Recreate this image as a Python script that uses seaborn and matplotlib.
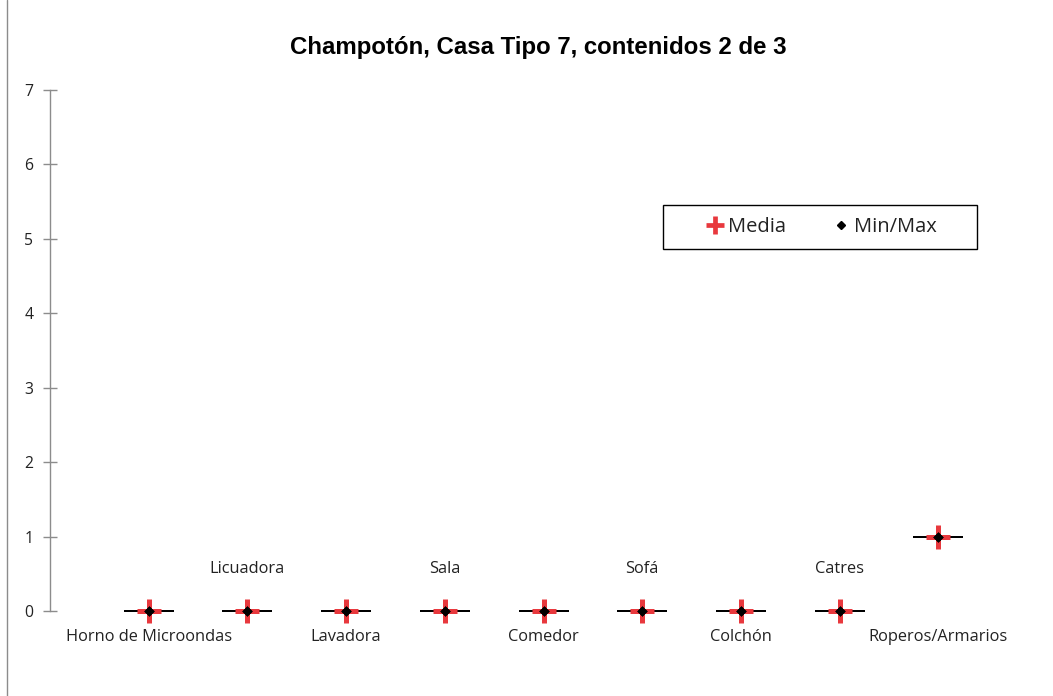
import matplotlib
matplotlib.use("Agg")
import matplotlib.pyplot as plt
from matplotlib.lines import Line2D
from matplotlib.patches import Rectangle
import seaborn as sns
import pandas as pd

# Contents and their damage values
categorias = ["Horno de Microondas", "Licuadora", "Lavadora", "Sala", "Comedor",
              "Sofá", "Colchón", "Catres", "Roperos/Armarios"]
media = [0, 0, 0, 0, 0, 0, 0, 0, 1]
minimo = [0, 0, 0, 0, 0, 0, 0, 0, 1]
maximo = [0, 0, 0, 0, 0, 0, 0, 0, 1]
y_ticks = [0, 1, 2, 3, 4, 5, 6, 7]

sns.set_style("white")
plt.rcParams["font.family"] = ["Open Sans", "DejaVu Sans"]

df = pd.DataFrame({"pos": range(len(categorias)), "categoria": categorias,
                   "media": media, "min": minimo, "max": maximo})
df_mm = pd.concat([df[["pos", "min"]].rename(columns={"min": "v"}),
                   df[["pos", "max"]].rename(columns={"max": "v"})])

fig = plt.figure(figsize=(10.53, 6.96), dpi=100)
ax = fig.add_axes([50 / 1053, 1 - 611 / 696, 987 / 1053, 521 / 696])

# range bar between min and max
sns.scatterplot(data=df_mm, x="pos", y="v", marker="_", s=1300, linewidth=1.4,
                color="black", ax=ax, clip_on=False, legend=False, zorder=3)
sns.scatterplot(data=df, x="pos", y="media", marker="+", s=300, linewidth=3.6,
                color="#e8383d", ax=ax, clip_on=False, legend=False, zorder=4)
sns.scatterplot(data=df_mm, x="pos", y="v", marker="D", s=28, linewidth=0,
                color="black", ax=ax, clip_on=False, legend=False, zorder=5)

# category labels alternate between a lower and an upper row
for i, row in df.iterrows():
    y_lab = -0.35 if i % 2 == 0 else 0.57
    ax.text(row["pos"], y_lab, row["categoria"], ha="center", va="center",
            fontsize=11.8, color="#222222", clip_on=False)

ax.set_xlim(-1, len(categorias))
ax.set_ylim(0, 7)
ax.set_yticks(y_ticks)
ax.set_xticks([])
ax.set_xlabel("")
ax.set_ylabel("")
for s in ["top", "right", "bottom"]:
    ax.spines[s].set_visible(False)
ax.spines["left"].set_color("#8c8c8c")
ax.spines["left"].set_linewidth(1.0)
ax.tick_params(axis="y", left=True, direction="inout", length=10, width=1.0,
               color="#8c8c8c", labelsize=11.3, labelcolor="#222222", pad=7)

ax.set_title("Champotón, Casa Tipo 7, contenidos 2 de 3", fontsize=17.3,
             fontweight="bold", family=["Liberation Sans", "DejaVu Sans"],
             pad=26, color="black", x=0.495)

handles = [Line2D([], [], marker="+", linestyle="none", markersize=13,
                  markeredgewidth=3.4, color="#e8383d", label="Media"),
           Line2D([], [], marker="D", linestyle="none", markersize=4,
                  color="black", label="Min/Max")]
leg = ax.legend(handles=handles, ncol=2, loc="center",
                bbox_to_anchor=(0.782, 0.737), fontsize=14.5, frameon=False,
                handlelength=0.8, handletextpad=0.25, columnspacing=2.3,
                borderpad=0, borderaxespad=0)
for t in leg.get_texts():
    t.set_color("#222222")
ax.add_patch(Rectangle(((663 - 50) / 987, (611 - 249) / 521), 314 / 987,
                       44 / 521, transform=ax.transAxes, fill=False,
                       edgecolor="black", linewidth=1.0, clip_on=False))

# left border line of the chart area
fig.add_artist(Line2D([7 / 1053, 7 / 1053], [0, 1], color="#8c8c8c",
                      linewidth=1.0, transform=fig.transFigure))

fig.savefig("out.png", dpi=100)
